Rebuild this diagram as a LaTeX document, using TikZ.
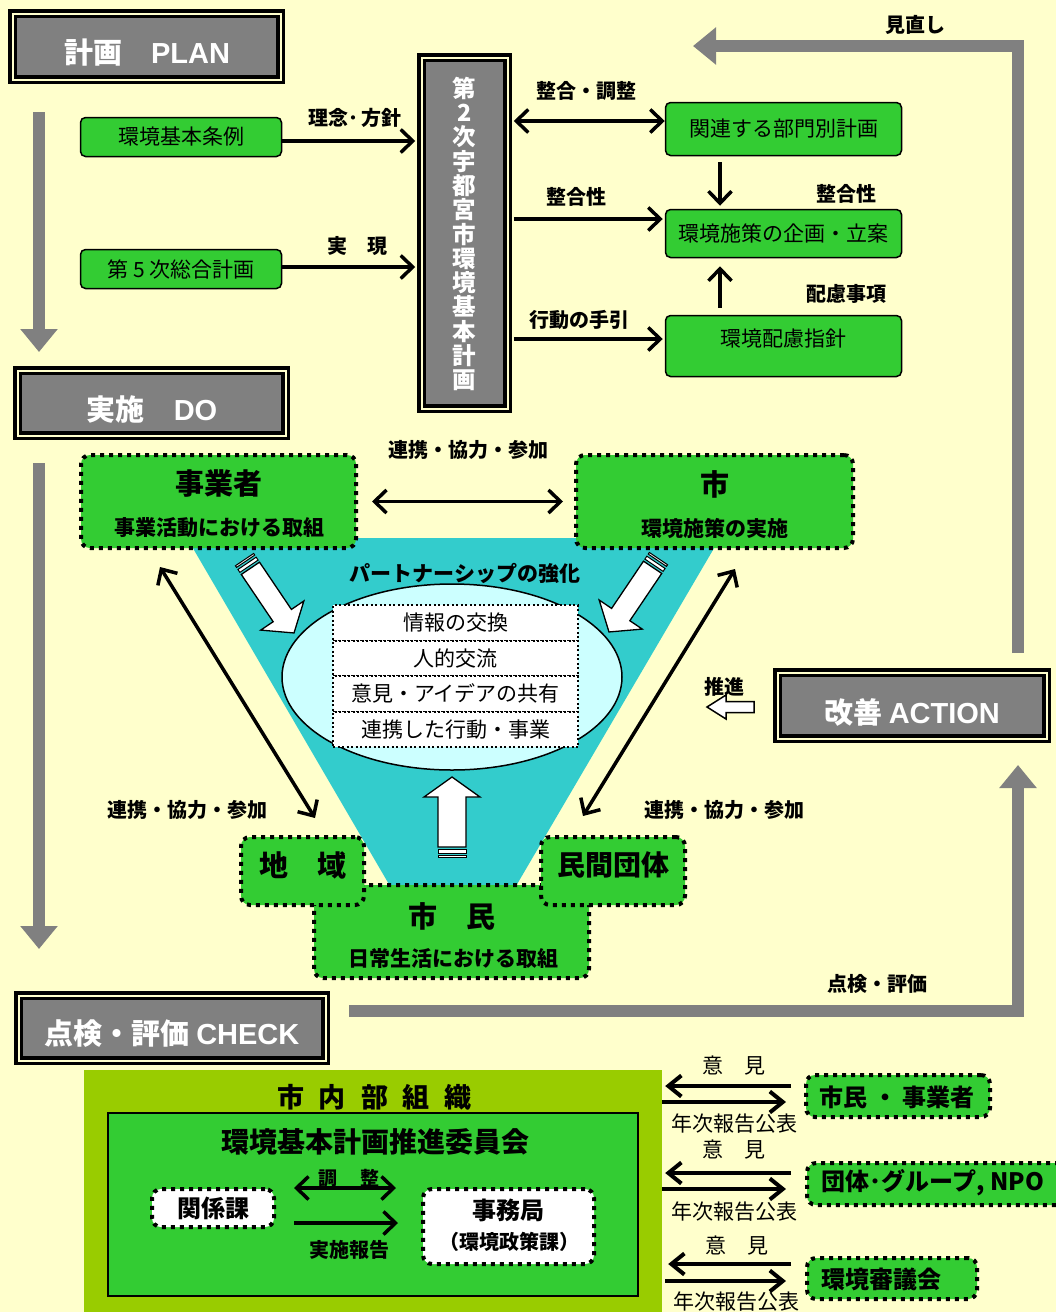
\documentclass[tikz,border=0pt]{standalone}
\usepackage{fontspec}
\setmainfont{Noto Sans CJK JP}
\newfontfamily\latf{Liberation Sans}
\usetikzlibrary{arrows.meta,calc,shapes.geometric}
\definecolor{bgc}{HTML}{FFFFCC}
\definecolor{grn}{HTML}{33CC33}
\definecolor{boxgray}{HTML}{808080}
\definecolor{tealc}{HTML}{33CCCC}
\definecolor{lcyan}{HTML}{CCFFFF}
\definecolor{olivec}{HTML}{99CC00}
\newcommand{\myfs}[1]{\fontsize{#1}{#1}\selectfont}
% white block arrow with two stripes at the tail: tail x, tail y, angle, length, half shaft, half head, head length
\newcommand{\wharrow}[7]{%
  \begin{scope}[shift={(#1,#2)}, x=1pt, y=1pt, rotate=#3]
    \filldraw[fill=white, draw=black, line width=1.3pt, line join=miter]
      (0,-#5) -- ({#4-#7},-#5) -- ({#4-#7},-#6) -- (#4,0) -- ({#4-#7},#6) -- ({#4-#7},#5) -- (0,#5) -- cycle;
    \filldraw[fill=white, draw=black, line width=1pt] (-6,-#5) rectangle (-2.5,#5);
    \filldraw[fill=white, draw=black, line width=1pt] (-10.5,-#5) rectangle (-8.5,#5);
  \end{scope}}
\newcommand{\hollowarrow}[7]{%
  \begin{scope}[shift={(#1,#2)}, x=1pt, y=1pt, rotate=#3]
    \filldraw[fill=white, draw=black, line width=1.5pt, line join=miter]
      (0,-#5) -- ({#4-#7},-#5) -- ({#4-#7},-#6) -- (#4,0) -- ({#4-#7},#6) -- ({#4-#7},#5) -- (0,#5) -- cycle;
  \end{scope}}
\begin{document}
\begin{tikzpicture}[x=1pt,y=-1pt,
  graybox/.style={draw=black, line width=3.5pt, double=bgc, double distance=2pt, fill=boxgray, inner sep=0pt},
  graytxt/.style={text=white, font=\myfs{29}\bfseries, inner sep=0pt},
  gbox/.style={draw=black, line width=1.5pt, fill=grn, rounded corners=5pt, inner sep=0pt, font=\myfs{21}},
  dbox/.style={draw=black, line width=4pt, dash pattern=on 4pt off 5pt, fill=grn, rounded corners=9pt, inner sep=0pt},
  wbox/.style={dbox, fill=white},
  rowbox/.style={draw=black, line width=2pt, dash pattern=on 2pt off 2.5pt, fill=white, minimum width=245pt, minimum height=35.5pt, inner sep=0pt, font=\myfs{21}},
  lbl/.style={font=\myfs{20}\bfseries, inner sep=0pt},
  rlbl/.style={font=\myfs{21}, inner sep=0pt},
  arr/.style={line width=3.5pt, -{Straight Barb[length=12pt,width=23pt]}},
  darr/.style={line width=3.5pt, {Straight Barb[length=12pt,width=23pt]}-{Straight Barb[length=12pt,width=23pt]}},
  arrf/.style={line width=4pt, -{Straight Barb[length=13pt,width=21pt]}},
  garr/.style={draw=boxgray, line width=12pt, line join=miter, -{Triangle[length=23pt,width=36pt]}},
]
\fill[bgc] (0,0) rectangle (1056,1312);
\useasboundingbox (0,0) rectangle (1056,1312);

% ---------- gray PDCA flow arrows ----------
\coordinate (g1s) at (39,112);  \coordinate (g1e) at (39,352);
\coordinate (g2s) at (39,463);  \coordinate (g2e) at (39,949);
\coordinate (rvs) at (1018,653); \coordinate (rvc) at (1018,46); \coordinate (rve) at (693,46);
\coordinate (cks) at (349,1011); \coordinate (ckc) at (1018,1011); \coordinate (cke) at (1018,765);
\draw[garr] (g1s) -- (g1e);
\draw[garr] (g2s) -- (g2e);
\draw[garr] (rvs) -- (rvc) -- (rve);
\draw[garr] (cks) -- (ckc) -- (cke);
\node[lbl] (lbRev) at (915,25) {見直し};
\node[lbl] (lbChk) at (877,984) {点検・評価};

% ---------- PDCA boxes ----------
\node[graybox, minimum width=268pt, minimum height=66pt] (plan) at (146.5,46.5) {};
\node[graytxt] (planT) at (147,53) {計画　{\latf PLAN}};
\node[graybox, minimum width=268pt, minimum height=65pt] (do) at (151.5,403) {};
\node[graytxt] (doT) at (152,410) {実施　{\latf DO}};
\node[graybox, minimum width=269pt, minimum height=66pt] (action) at (912,705.5) {};
\node[graytxt] (actionT) at (912,712) {改善 {\latf ACTION}};
\node[graybox, minimum width=307pt, minimum height=65pt] (check) at (172,1028) {};
\node[graytxt] (checkT) at (172,1034) {点検・評価 {\latf CHECK}};

% ---------- PLAN section ----------
\node[graybox, minimum width=86pt, minimum height=351pt] (keikaku) at (464.5,233) {};
\node[graytxt, align=center, font=\fontsize{23.5}{24.3}\selectfont\bfseries] (keikakuT) at (464.5,234)
  {第\\2\\次\\宇\\都\\宮\\市\\環\\境\\基\\本\\計\\画};
\node[gbox, minimum width=201pt, minimum height=39pt] (jorei) at (181,137) {環境基本条例};
\node[gbox, minimum width=201pt, minimum height=39pt] (sogo) at (181,269) {第 5 次総合計画};
\node[gbox, minimum width=236pt, minimum height=53pt] (bumon) at (783.5,129) {関連する部門別計画};
\node[gbox, minimum width=236pt, minimum height=48pt] (kikaku) at (783.5,233.5) {環境施策の企画・立案};
\node[gbox, minimum width=236pt, minimum height=61pt] (hairyo) at (783.5,346) {};
\node[rlbl] (hairyoT) at (783.5,339) {環境配慮指針};

\coordinate (c1) at ([yshift=-4pt]jorei.east);
\draw[arr, shorten >=4.5pt] (c1) -- (c1 -| keikaku.west);
\coordinate (c2) at ([yshift=2pt]sogo.east);
\draw[arr, shorten >=4.5pt] (c2) -- (c2 -| keikaku.west);
\coordinate (c3) at ([yshift=8pt]bumon.west);
\draw[darr, shorten <=4.5pt] (c3 -| keikaku.east) -- (c3);
\coordinate (c4) at ([yshift=14.5pt]kikaku.west);
\draw[arr, shorten <=4.5pt, shorten >=2pt] (c4 -| keikaku.east) -- (c4);
\coordinate (c5) at ([yshift=7pt]hairyo.west);
\draw[arr, shorten <=4.5pt, shorten >=2pt] (c5 -| keikaku.east) -- (c5);
\coordinate (c6) at ([xshift=-63.5pt]bumon.south);
\draw[arr, shorten <=6pt, shorten >=3pt] (c6) -- (c6 |- kikaku.north);
\coordinate (c7) at ([xshift=-63.5pt]hairyo.north);
\draw[arr, shorten <=7pt, shorten >=8pt] (c7) -- (c7 |- kikaku.south);

\node[lbl] (lb1) at (355,118) {理念･\,方針};
\node[lbl] (lb2) at (357,246) {実　現};
\node[lbl] (lb3) at (586,91) {整合・調整};
\node[lbl] (lb4) at (576,197) {整合性};
\node[lbl] (lb5) at (579,320) {行動の手引};
\node[lbl] (lb6) at (846,194) {整合性};
\node[lbl] (lb7) at (846,294) {配慮事項};

% ---------- DO section ----------
\fill[tealc] (187,538) -- (720,538) -- (516,886) -- (390,886) -- cycle;
\node[ellipse, draw=black, line width=1.5pt, fill=lcyan, minimum width=340pt, minimum height=186pt, inner sep=0pt] (ell) at (452,677) {};
\node[rowbox] (row1) at (455.5,622.75) {情報の交換};
\node[rowbox] (row2) at (455.5,658.25) {人的交流};
\node[rowbox] (row3) at (455.5,693.75) {意見・アイデアの共有};
\node[rowbox] (row4) at (455.5,729.25) {連携した行動・事業};
\node[font=\myfs{21}\bfseries, inner sep=0pt] (partner) at (465,573) {パートナーシップの強化};

\wharrow{250.4}{568.3}{-56}{78}{11}{26}{21}
\wharrow{652.6}{567.3}{-124}{78}{11}{26}{21}
\wharrow{452}{847}{90}{70}{14}{28}{20}

\node[dbox, minimum width=275pt, minimum height=93pt] (jig) at (218.5,501.5) {};
\node[font=\myfs{29}\bfseries, inner sep=0pt] (jigT1) at (219,484) {事業者};
\node[font=\myfs{21}\bfseries, inner sep=0pt] (jigT2) at (219,528) {事業活動における取組};
\node[dbox, minimum width=277pt, minimum height=93pt] (shi) at (714.5,501.5) {};
\node[font=\myfs{29}\bfseries, inner sep=0pt] (shiT1) at (714.5,484) {市};
\node[font=\myfs{21}\bfseries, inner sep=0pt] (shiT2) at (714.5,528) {環境施策の実施};
\node[dbox, minimum width=275pt, minimum height=93pt] (shimin) at (451.5,931.5) {};
\node[font=\myfs{29}\bfseries, inner sep=0pt] (shiminT1) at (452,916) {市　民};
\node[font=\myfs{21}\bfseries, inner sep=0pt] (shiminT2) at (453,958) {日常生活における取組};
\node[dbox, minimum width=123pt, minimum height=68pt] (chiiki) at (302.5,871) {};
\node[font=\myfs{29}\bfseries, inner sep=0pt] (chiikiT) at (302.5,865) {地　域};
\node[dbox, minimum width=144pt, minimum height=68pt] (minkan) at (613,871) {};
\node[font=\myfs{28}\bfseries, inner sep=0pt] (minkanT) at (613,865) {民間団体};

\draw[darr, shorten <=14pt, shorten >=11pt] (jig.east) -- (shi.west);
\draw[darr] ($(jig.south west)+(81,17)$) -- ($(chiiki.north west)+(76,-17)$);
\draw[darr] ($(shi.south west)+(161,19)$) -- ($(minkan.north west)+(44,-19)$);
\node[lbl] (lb8) at (468,450) {連携・協力・参加};
\node[lbl] (lb9) at (187,810) {連携・協力・参加};
\node[lbl] (lb10) at (724,810) {連携・協力・参加};

\hollowarrow{754}{707}{180}{47}{5.5}{12}{19}
\node[lbl] (lbSuishin) at (724,687) {推進};

% ---------- CHECK section ----------
\node[fill=olivec, minimum width=578pt, minimum height=250pt, inner sep=0pt] (naibu) at (373,1195) {};
\node[font=\myfs{27}\bfseries, inner sep=0pt] (naibuT) at (374.5,1097)
  {市\hspace{15pt}内\hspace{15pt}部\hspace{15pt}組\hspace{15pt}織};
\node[draw=black, line width=2pt, fill=grn, minimum width=530pt, minimum height=183pt, inner sep=0pt] (iinkai) at (373,1204.5) {};
\node[font=\myfs{28}\bfseries, inner sep=0pt] (iinkaiT) at (375,1142) {環境基本計画推進委員会};
\node[wbox, minimum width=122pt, minimum height=38pt, font=\myfs{24}\bfseries] (kankei) at (213,1208) {関係課};
\node[wbox, minimum width=171pt, minimum height=75pt] (jimu) at (508.5,1226.5) {};
\node[font=\myfs{24}\bfseries, inner sep=0pt] (jimuT1) at (508.5,1210) {事務局};
\node[font=\myfs{20}\bfseries, inner sep=0pt] (jimuT2) at (509,1242) {（環境政策課）};

\coordinate (k1) at ([yshift=20pt]kankei.east);
\draw[darr, shorten <=18pt, shorten >=25pt] (k1) -- (k1 -| jimu.west);
\coordinate (k2) at ([yshift=-15pt]kankei.east);
\draw[arr, shorten <=18pt, shorten >=23pt] (k2) -- (k2 -| jimu.west);
\node[font=\myfs{19}\bfseries, inner sep=0pt] (lbChosei) at (349,1178) {調\hspace{23pt}整};
\node[font=\myfs{20}\bfseries, inner sep=0pt] (lbHokoku) at (349,1250) {実施報告};

\node[dbox, minimum width=184pt, minimum height=42pt] (r1) at (898,1096) {};
\node[font=\myfs{24}\bfseries, inner sep=0pt] (r1T) at (897,1097) {市民 ・ 事業者};
\node[dbox, minimum width=261pt, minimum height=42pt] (r2) at (937.5,1184) {};
\node[font=\myfs{24}\bfseries, inner sep=0pt] (r2T) at (933,1183) {団体･グループ, NPO};
\node[dbox, minimum width=170pt, minimum height=41pt] (r3) at (892,1278.5) {};
\node[font=\myfs{24}\bfseries, inner sep=0pt] (r3T) at (881,1279) {環境審議会};

\coordinate (q1) at ([yshift=10pt]r1.west);
\draw[arrf, shorten <=13pt, shorten >=3pt] (q1) -- (q1 -| naibu.east);
\coordinate (q2) at ([yshift=-6pt]r1.west);
\draw[arrf, shorten >=18pt] (q2 -| naibu.east) -- (q2);
\coordinate (q3) at ([yshift=11pt]r2.west);
\draw[arrf, shorten <=14pt, shorten >=3pt] (q3) -- (q3 -| naibu.east);
\coordinate (q4) at ([yshift=-5pt]r2.west);
\draw[arrf, shorten >=19pt] (q4 -| naibu.east) -- (q4);
\coordinate (q5) at ([yshift=14.5pt]r3.west);
\draw[arrf, shorten <=14pt, shorten >=6pt] (q5) -- (q5 -| naibu.east);
\coordinate (q6) at ([yshift=-2.5pt]r3.west);
\draw[arrf, shorten <=3pt, shorten >=19pt] (q6 -| naibu.east) -- (q6);

\node[rlbl] (ik1) at (734,1066) {意　見};
\node[rlbl] (nj1) at (734,1124) {年次報告公表};
\node[rlbl] (ik2) at (734,1150) {意　見};
\node[rlbl] (nj2) at (734,1212) {年次報告公表};
\node[rlbl] (ik3) at (737,1246) {意　見};
\node[rlbl] (nj3) at (736,1302) {年次報告公表};
\end{tikzpicture}
\end{document}
